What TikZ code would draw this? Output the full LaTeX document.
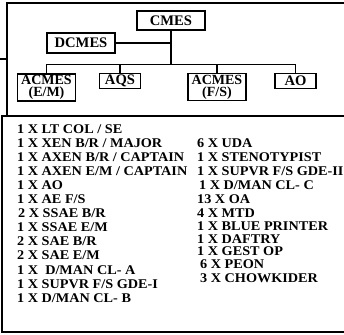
\documentclass[tikz,border=0pt]{standalone}
\usepackage{fontspec}
\setmainfont{Liberation Serif}
\newfontfamily\listfont[FakeStretch=1.07]{Liberation Serif}
\begin{document}
\begin{tikzpicture}[x=1pt,y=-1pt,
  box/.style={draw,line width=1.3pt,inner sep=0pt,align=center,
    font=\fontsize{14.6}{11.5}\selectfont\bfseries},
  twobox/.style={box,font=\fontsize{14}{12}\selectfont\bfseries},
  item/.style={anchor=base west,inner sep=0pt,font=\listfont\fontsize{13.3}{14}\selectfont\bfseries},
  link/.style={line width=1.2pt}]
\useasboundingbox (0,0) rectangle (344,334);
\clip (0,0) rectangle (344,334);
% frames
\draw[line width=1.5pt] (350,3) -- (7,3) -- (7,116) -- (350,116);
\draw[line width=1.3pt] (0,59) -- (7,59);
\draw[line width=2.2pt] (2,116) rectangle (350,332);
% org chart
\node[box,minimum width=68pt,minimum height=19pt] (cmes) at (171,20.5) {CMES};
\node[box,minimum width=68pt,minimum height=20pt] (dcmes) at (81,43) {DCMES};
\node[twobox,minimum width=58pt,minimum height=27pt] (acmesem) at (46.5,87.5) {ACMES\\(E/M)};
\node[box,minimum width=41pt,minimum height=15pt] (aqs) at (120,80.8) {AQS};
\node[twobox,minimum width=58pt,minimum height=27pt] (acmesfs) at (217,87.3) {ACMES\\(F/S)};
\node[box,minimum width=41pt,minimum height=15pt] (ao) at (295.5,81) {AO};
\coordinate (bus) at (171,64.5);
\draw[link] (cmes.south) -- (cmes.south |- bus);
\draw[link] (dcmes.east) -- (dcmes.east -| cmes.south);
\draw[link] (acmesem.north) -- (acmesem.north |- bus) -- (ao.north |- bus) -- (ao.north);
\draw[link] (aqs.north) -- (aqs.north |- bus);
\draw[link] (acmesfs.north) -- (acmesfs.north |- bus);
% left column
\node[item] (l1) at (17,133) {1 X LT COL / SE};
\node[item] (l2) at (17,147.1) {1 X XEN B/R / MAJOR};
\node[item] (l3) at (17,161.2) {1 X AXEN B/R / CAPTAIN};
\node[item] (l4) at (17,175.3) {1 X AXEN E/M / CAPTAIN};
\node[item] (l5) at (17,189.4) {1 X AO};
\node[item] (l6) at (17,203.5) {1 X AE F/S};
\node[item] (l7) at (18,217.6) {2 X SSAE B/R};
\node[item] (l8) at (17,231.7) {1 X SSAE E/M};
\node[item] (l9) at (17,245.8) {2 X SAE B/R};
\node[item] (l10) at (17,259.9) {2 X SAE E/M};
\node[item] (l11) at (17,274) {1 X \ D/MAN CL- A};
\node[item] (l12) at (17,288.1) {1 X SUPVR F/S GDE-I};
\node[item] (l13) at (17,302.2) {1 X D/MAN CL- B};
% right column
\node[item] (r1) at (197,147) {6 X UDA};
\node[item] (r2) at (197,161) {1 X STENOTYPIST};
\node[item] (r3) at (197,175.2) {1 X SUPVR F/S GDE-II};
\node[item] (r4) at (199,189) {1 X D/MAN CL- C};
\node[item] (r5) at (197,203) {13 X OA};
\node[item] (r6) at (197,217) {4 X MTD};
\node[item] (r7) at (197,230.8) {1 X BLUE PRINTER};
\node[item] (r8) at (197,243.3) {1 X DAFTRY};
\node[item] (r9) at (197,255.3) {1 X GEST OP};
\node[item] (r10) at (200,268.5) {6 X PEON};
\node[item] (r11) at (200,282) {3 X CHOWKIDER};
\end{tikzpicture}
\end{document}
